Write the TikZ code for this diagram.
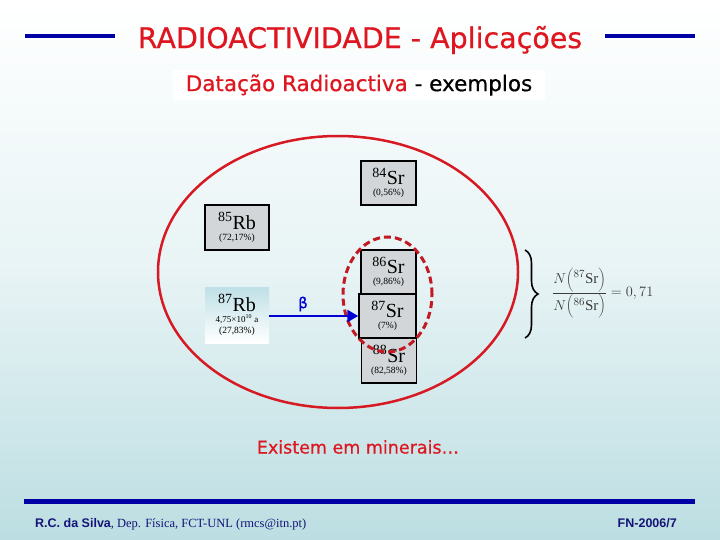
\documentclass[tikz,border=0pt]{standalone}
\usepackage{fontspec}
\setmainfont{Liberation Serif}
\setsansfont{Liberation Sans}
\newfontfamily\comicf{DejaVu Sans}[FakeBold=0.6]
\usetikzlibrary{arrows.meta,decorations.pathreplacing,shapes.geometric}
\definecolor{titlered}{RGB}{222,22,32}
\definecolor{navyline}{RGB}{0,0,165}
\definecolor{bgblue}{RGB}{188,222,226}
\definecolor{boxgray}{RGB}{210,214,216}
\definecolor{ellred}{RGB}{215,25,35}
\definecolor{dashred}{RGB}{195,25,35}
\definecolor{arrblue}{RGB}{0,0,210}
\definecolor{eqgray}{RGB}{60,60,60}
\definecolor{footnavy}{RGB}{20,20,120}
\definecolor{rbtop}{RGB}{190,224,230}
\newcommand\isolabel[3]{{\fontsize{20}{18}\selectfont\textsuperscript{#1}#2}\\[-1pt]{\fontsize{9.5}{10}\selectfont #3}}
\tikzset{
  isobox/.style={draw=black, line width=1.5pt, fill=boxgray, minimum width=55pt,
    minimum height=44pt, inner sep=0pt, align=center},
  rbbox/.style={isobox, minimum width=64pt, minimum height=45pt},
  hline/.style={navyline, line width=4.5pt},
  betaarrow/.style={arrblue, line width=2.5pt, -{Triangle[length=11pt,width=12pt]}},
}
\begin{document}
\begin{tikzpicture}[x=1pt,y=-1pt]
\useasboundingbox (0,0) rectangle (720,540);
\shade[top color=white, bottom color=bgblue, middle color=bgblue!35!white] (0,0) rectangle (720,540);
% title
\node[text=titlered, inner sep=0pt] (title) at (360,40) {\comicf\fontsize{28.5}{28.5}\selectfont RADIOACTIVIDADE - Aplicações};
\draw[hline] (25,36) -- (115,36);
\draw[hline] (605,36) -- (695,36);
\node[fill=white, minimum width=372pt, minimum height=30pt, inner sep=0pt] (sub) at (359,85)
  {\comicf\fontsize{21.5}{21.5}\selectfont\textcolor{titlered}{Datação Radioactiva} - exemplos};
% big ellipse
\node[draw=ellred, line width=2.5pt, ellipse, minimum width=360pt, minimum height=272pt, inner sep=0pt] (mineral) at (338,272) {};
% boxes
\node[isobox] (sr84) at (388.5,183) {\isolabel{84}{Sr}{(0,56\%)}};
\node[rbbox] (rb85) at (237,227.5) {\isolabel{85}{Rb}{(72,17\%)}};
\node[isobox] (sr86) at (388.5,272) {\isolabel{86}{Sr}{(9,86\%)}};
\node[isobox, minimum width=57pt] (sr87) at (387.5,316) {\isolabel{87}{Sr}{(7\%)}};
\node[isobox, minimum height=45pt] (sr88) at (389,360.5) {\isolabel{88}{Sr}{(82,58\%)}};
\node[top color=rbtop, bottom color=white, minimum width=64pt, minimum height=56pt, inner sep=0pt, align=center] (rb87) at (237,315)
  {{\fontsize{20}{18}\selectfont\textsuperscript{87}Rb}\\[-1pt]{\fontsize{9}{9.5}\selectfont 4,75×10\textsuperscript{10} a}\\[-1pt]{\fontsize{9.5}{10}\selectfont (27,83\%)}};
% dashed ellipse
\node[draw=dashred, line width=3pt, dash pattern=on 7pt off 4pt, ellipse, minimum width=89pt, minimum height=115pt, inner sep=0pt] (pair) at (387.5,294.5) {};
% arrow
\draw[betaarrow] (rb87.east |- 0,316) -- (sr87.west |- 0,316);
\node[text=arrblue] (beta) at (303,304) {\comicf\fontsize{15}{15}\selectfont β};
% brace
\coordinate (bt) at (525,250);
\coordinate (bb) at (525,338);
\draw[line width=1.6pt, decorate, decoration={brace, amplitude=13pt}] (bt) -- (bb);
\node[text=eqgray, anchor=west, inner sep=0pt] (ratio) at (552,293)
  {\fontsize{15}{18}\selectfont$\displaystyle\frac{N\biggl({}^{87}\mathrm{Sr}\biggr)}{N\biggl({}^{86}\mathrm{Sr}\biggr)}=0,71$};
% bottom text
\node[text=titlered] (exist) at (358,447) {\comicf\fontsize{17.5}{17.5}\selectfont Existem em minerais…};
\draw[hline, line width=5pt] (24,501) -- (695,501);
\node[anchor=base west, text=footnavy, inner sep=0pt] (author) at (35,527)
  {\fontsize{12.5}{14}\selectfont{\sffamily\bfseries R.C. da Silva}, Dep. Física, FCT-UNL (rmcs@itn.pt)};
\node[anchor=base east, text=footnavy, inner sep=0pt] (fn) at (677,527)
  {\fontsize{12.5}{14}\selectfont\sffamily\bfseries FN-2006/7};
\end{tikzpicture}
\end{document}
